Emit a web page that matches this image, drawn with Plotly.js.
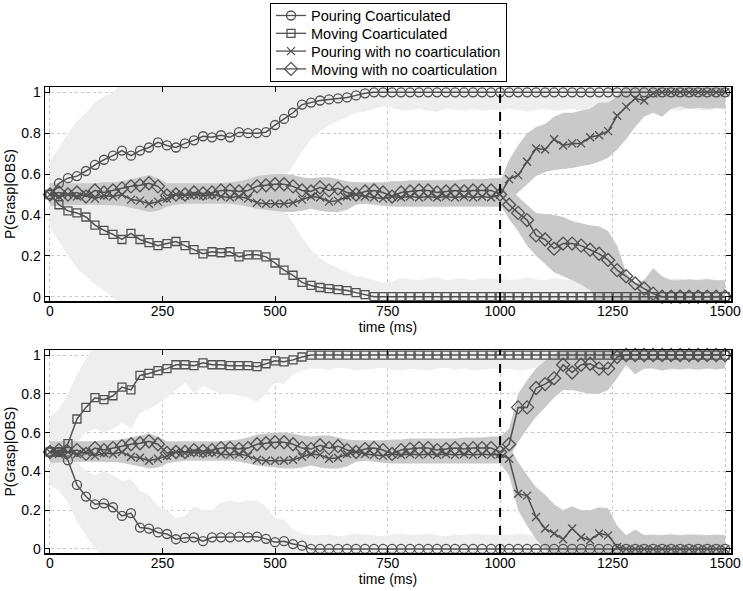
<!DOCTYPE html>
<html>
<head>
<meta charset="utf-8">
<script src="https://cdn.plot.ly/plotly-3.0.1.min.js"></script>
<style>html,body{margin:0;padding:0;background:#fff;}#chart{width:743px;height:591px;}</style>
</head>
<body>
<div id="chart"></div>
<script>
// time axis (ms)
const time = [0,20,40,60,80,100,120,140,160,180,
  200,220,240,260,280,300,320,340,360,380,
  400,420,440,460,480,500,520,540,560,580,
  600,620,640,660,680,700,720,740,760,780,
  800,820,840,860,880,900,920,940,960,980,
  1000,1020,1040,1060,1080,1100,1120,1140,1160,1180,
  1200,1220,1240,1260,1280,1300,1320,1340,1360,1380,
  1400,1420,1440,1460,1480,1500];

const seriesNames = ["Pouring Coarticulated","Moving Coarticulated","Pouring with no coarticulation","Moving with no coarticulation"];
const xTickVals = [0,250,500,750,1000,1250,1500];
const yTickVals = [0,0.2,0.4,0.6,0.8,1];
const yTickText = ["0","0.2","0.4","0.6","0.8","1"];
const onsetTime = 1000;

// ---------- TOP PANEL ----------
const topPourCo = [0.50,0.555,0.58,0.59,0.615,0.645,0.67,0.69,0.715,0.69,
  0.715,0.73,0.755,0.74,0.73,0.75,0.765,0.785,0.78,0.79,
  0.78,0.805,0.80,0.80,0.805,0.84,0.87,0.90,0.94,0.95,
  0.96,0.965,0.97,0.975,0.985,0.995,1,1,1,1,
  1,1,1,1,1,1,1,1,1,1,
  1,1,1,1,1,1,1,1,1,1,
  1,1,1,1,1,1,1,1,1,1,
  1,1,1,1,1,1];
const topMoveCo = [0.50,0.45,0.42,0.41,0.39,0.35,0.325,0.305,0.28,0.31,
  0.28,0.265,0.25,0.26,0.27,0.25,0.23,0.21,0.22,0.215,
  0.22,0.195,0.205,0.205,0.195,0.165,0.13,0.105,0.07,0.055,
  0.045,0.04,0.035,0.03,0.02,0.01,0,0,0,0,
  0,0,0,0,0,0,0,0,0,0,
  0,0,0,0,0,0,0,0,0,0,
  0,0,0,0,0,0,0,0,0,0,
  0,0,0,0,0,0];
const topPourNo = [0.50,0.49,0.50,0.49,0.50,0.48,0.495,0.49,0.50,0.475,
  0.47,0.455,0.465,0.48,0.50,0.495,0.50,0.495,0.50,0.49,
  0.485,0.49,0.48,0.46,0.455,0.455,0.455,0.46,0.475,0.49,
  0.485,0.465,0.47,0.49,0.50,0.49,0.485,0.48,0.49,0.485,
  0.49,0.485,0.49,0.485,0.49,0.485,0.49,0.485,0.49,0.485,
  0.50,0.575,0.595,0.66,0.725,0.72,0.77,0.74,0.75,0.75,
  0.78,0.79,0.81,0.885,0.93,0.97,0.96,0.995,1,1,
  1,1,1,1,1,1];
const topMoveNo = [0.50,0.51,0.50,0.51,0.49,0.52,0.51,0.52,0.53,0.54,
  0.545,0.555,0.54,0.495,0.50,0.50,0.51,0.505,0.51,0.52,
  0.52,0.515,0.52,0.54,0.545,0.55,0.55,0.54,0.52,0.515,
  0.535,0.52,0.53,0.51,0.50,0.515,0.52,0.51,0.49,0.51,
  0.515,0.52,0.52,0.51,0.515,0.52,0.515,0.52,0.52,0.52,
  0.50,0.45,0.41,0.375,0.30,0.28,0.235,0.26,0.26,0.25,
  0.23,0.21,0.18,0.13,0.10,0.065,0.04,0.015,0,0,
  0,0,0,0,0,0];

// top panel spread bands (upper / lower edges)
const topPourCoHi = [0.66,0.73,0.80,0.86,0.90,0.95,0.98,1.0,1.05,1.05,
  1.05,1.05,1.05,1.05,1.05,1.05,1.05,1.05,1.05,1.05,
  1.05,1.05,1.05,1.05,1.05,1.05,1.05,1.05,1.05,1.05,
  1.05,1.05,1.05,1.05,1.05,1.05,1.05,1.05,1.05,1.05,
  1.05,1.05,1.05,1.05,1.05,1.05,1.05,1.05,1.05,1.05,
  1.05,1.05,1.05,1.05,1.05,1.05,1.05,1.05,1.05,1.05,
  1.05,1.05,1.05,1.05,1.05,1.05,1.05,1.05,1.05,1.05,
  1.05,1.05,1.05,1.05,1.05,1.05];
const topPourCoLo = [0.34,0.30,0.27,0.25,0.24,0.25,0.27,0.28,0.30,0.30,
  0.32,0.33,0.35,0.35,0.35,0.36,0.37,0.38,0.38,0.39,
  0.40,0.41,0.42,0.43,0.45,0.50,0.58,0.64,0.71,0.77,
  0.81,0.84,0.86,0.88,0.90,0.905,0.92,0.93,0.925,0.91,
  0.915,0.92,0.91,0.905,0.92,0.915,0.91,0.92,0.91,0.915,
  0.91,0.92,0.915,0.905,0.915,0.92,0.91,0.915,0.92,0.91,
  0.915,0.91,0.92,0.915,0.91,0.92,0.915,0.91,0.92,0.915,
  0.91,0.92,0.915,0.91,0.92,0.915];
const topMoveCoHi = [0.66,0.70,0.73,0.75,0.76,0.75,0.73,0.72,0.70,0.70,
  0.68,0.67,0.65,0.65,0.65,0.64,0.63,0.62,0.62,0.61,
  0.60,0.59,0.58,0.57,0.55,0.50,0.42,0.36,0.29,0.23,
  0.19,0.16,0.14,0.12,0.10,0.095,0.08,0.07,0.075,0.09,
  0.085,0.08,0.09,0.095,0.08,0.085,0.09,0.08,0.09,0.085,
  0.09,0.08,0.085,0.095,0.085,0.08,0.09,0.085,0.08,0.09,
  0.085,0.09,0.08,0.085,0.09,0.08,0.085,0.09,0.08,0.085,
  0.09,0.08,0.085,0.09,0.08,0.085];
const topMoveCoLo = [0.34,0.27,0.20,0.14,0.10,0.06,0.03,0.0,-0.05,-0.05,
  -0.05,-0.05,-0.05,-0.05,-0.05,-0.05,-0.05,-0.05,-0.05,-0.05,
  -0.05,-0.05,-0.05,-0.05,-0.05,-0.05,-0.05,-0.05,-0.05,-0.05,
  -0.05,-0.05,-0.05,-0.05,-0.05,-0.05,-0.05,-0.05,-0.05,-0.05,
  -0.05,-0.05,-0.05,-0.05,-0.05,-0.05,-0.05,-0.05,-0.05,-0.05,
  -0.05,-0.05,-0.05,-0.05,-0.05,-0.05,-0.05,-0.05,-0.05,-0.05,
  -0.05,-0.05,-0.05,-0.05,-0.05,-0.05,-0.05,-0.05,-0.05,-0.05,
  -0.05,-0.05,-0.05,-0.05,-0.05,-0.05];
const topPourNoHi = [0.54,0.53,0.54,0.53,0.54,0.525,0.535,0.53,0.54,0.52,
  0.515,0.505,0.51,0.525,0.54,0.535,0.54,0.535,0.54,0.53,
  0.525,0.53,0.52,0.505,0.50,0.50,0.50,0.505,0.515,0.53,
  0.525,0.51,0.515,0.53,0.54,0.53,0.525,0.52,0.53,0.525,
  0.53,0.525,0.53,0.525,0.53,0.525,0.53,0.525,0.53,0.525,
  0.56,0.67,0.74,0.80,0.83,0.845,0.88,0.90,0.90,0.91,
  0.92,0.95,0.95,0.98,1.05,1.05,1.05,1.05,1.05,1.05,
  1.05,1.05,1.05,1.05,1.05,1.05];
const topPourNoLo = [0.445,0.445,0.448,0.45,0.45,0.45,0.45,0.448,0.445,0.435,
  0.425,0.415,0.42,0.44,0.45,0.455,0.455,0.455,0.455,0.455,
  0.455,0.45,0.44,0.43,0.425,0.42,0.415,0.415,0.42,0.43,
  0.42,0.415,0.415,0.425,0.45,0.455,0.45,0.445,0.44,0.44,
  0.44,0.44,0.44,0.44,0.44,0.44,0.44,0.44,0.44,0.44,
  0.44,0.47,0.51,0.55,0.59,0.61,0.62,0.625,0.63,0.64,
  0.645,0.66,0.68,0.72,0.77,0.83,0.88,0.90,0.88,0.92,
  0.93,0.92,0.925,0.92,0.925,0.92];
const topMoveNoHi = [0.555,0.555,0.555,0.555,0.555,0.555,0.56,0.56,0.565,0.575,
  0.585,0.595,0.58,0.555,0.555,0.555,0.555,0.555,0.555,0.555,
  0.56,0.565,0.575,0.59,0.595,0.60,0.60,0.595,0.585,0.58,
  0.585,0.585,0.575,0.565,0.56,0.56,0.56,0.56,0.565,0.565,
  0.57,0.57,0.57,0.57,0.57,0.57,0.575,0.575,0.575,0.58,
  0.58,0.53,0.49,0.45,0.41,0.405,0.40,0.39,0.37,0.36,
  0.35,0.345,0.32,0.25,0.12,0.065,0.08,0.14,0.10,0.08,
  0.08,0.085,0.08,0.085,0.08,0.08];
const topMoveNoLo = [0.46,0.465,0.46,0.465,0.455,0.47,0.465,0.47,0.475,0.48,
  0.48,0.485,0.48,0.455,0.46,0.46,0.465,0.46,0.465,0.47,
  0.47,0.465,0.47,0.48,0.485,0.49,0.49,0.48,0.47,0.465,
  0.48,0.47,0.475,0.465,0.46,0.465,0.47,0.465,0.455,0.465,
  0.465,0.47,0.47,0.465,0.465,0.47,0.465,0.47,0.47,0.47,
  0.45,0.38,0.32,0.25,0.20,0.16,0.12,0.10,0.08,0.06,
  0.03,-0.05,-0.05,-0.05,-0.05,-0.05,-0.05,-0.05,-0.05,-0.05,
  -0.05,-0.05,-0.05,-0.05,-0.05,-0.05];

// ---------- BOTTOM PANEL ----------
const botPourCo = [0.50,0.50,0.457,0.33,0.27,0.23,0.235,0.215,0.17,0.185,
  0.11,0.105,0.085,0.077,0.05,0.057,0.06,0.04,0.06,0.06,
  0.06,0.063,0.06,0.063,0.052,0.035,0.04,0.025,0.017,0,
  0,0,0,0,0,0,0,0,0,0,
  0,0,0,0,0,0,0,0,0,0,
  0,0,0,0,0,0,0,0,0,0,
  0,0,0,0,0,0,0,0,0,0,
  0,0,0,0,0,0];
const botMoveCo = [0.50,0.50,0.543,0.67,0.73,0.78,0.77,0.79,0.835,0.82,
  0.895,0.905,0.92,0.93,0.95,0.95,0.945,0.96,0.95,0.95,
  0.945,0.945,0.945,0.94,0.955,0.97,0.965,0.975,0.99,1,
  1,1,1,1,1,1,1,1,1,1,
  1,1,1,1,1,1,1,1,1,1,
  1,1,1,1,1,1,1,1,1,1,
  1,1,1,1,1,1,1,1,1,1,
  1,1,1,1,1,1];
const botPourNo = [0.50,0.49,0.50,0.49,0.50,0.48,0.495,0.49,0.50,0.475,
  0.47,0.455,0.465,0.48,0.50,0.495,0.50,0.495,0.50,0.49,
  0.485,0.49,0.48,0.46,0.455,0.455,0.455,0.46,0.475,0.49,
  0.485,0.465,0.47,0.49,0.50,0.49,0.485,0.48,0.49,0.485,
  0.49,0.485,0.49,0.485,0.49,0.485,0.49,0.485,0.49,0.485,
  0.49,0.465,0.285,0.275,0.165,0.105,0.08,0.05,0.105,0.06,
  0.045,0.08,0.07,0.01,0,0,0,0,0,0,
  0,0,0,0,0,0];
const botMoveNo = [0.50,0.51,0.50,0.51,0.49,0.52,0.51,0.52,0.53,0.54,
  0.545,0.555,0.54,0.495,0.50,0.50,0.51,0.505,0.51,0.52,
  0.52,0.515,0.52,0.54,0.545,0.55,0.55,0.54,0.52,0.515,
  0.535,0.52,0.53,0.51,0.50,0.515,0.52,0.51,0.49,0.51,
  0.515,0.52,0.52,0.51,0.515,0.52,0.515,0.52,0.52,0.52,
  0.50,0.54,0.73,0.73,0.83,0.85,0.88,0.95,0.91,0.95,
  0.955,0.93,0.93,0.99,1,1,1,1,1,1,
  1,1,1,1,1,1];

const botMoveCoHi = [0.68,0.72,0.80,0.90,0.98,1.05,1.05,1.05,1.05,1.05,
  1.05,1.05,1.05,1.05,1.05,1.05,1.05,1.05,1.05,1.05,
  1.05,1.05,1.05,1.05,1.05,1.05,1.05,1.05,1.05,1.05,
  1.05,1.05,1.05,1.05,1.05,1.05,1.05,1.05,1.05,1.05,
  1.05,1.05,1.05,1.05,1.05,1.05,1.05,1.05,1.05,1.05,
  1.05,1.05,1.05,1.05,1.05,1.05,1.05,1.05,1.05,1.05,
  1.05,1.05,1.05,1.05,1.05,1.05,1.05,1.05,1.05,1.05,
  1.05,1.05,1.05,1.05,1.05,1.05];
const botMoveCoLo = [0.33,0.35,0.45,0.55,0.60,0.62,0.60,0.62,0.65,0.62,
  0.70,0.72,0.75,0.78,0.82,0.86,0.80,0.84,0.82,0.80,
  0.80,0.79,0.78,0.76,0.80,0.86,0.85,0.90,0.92,0.93,
  0.93,0.925,0.935,0.93,0.92,0.925,0.93,0.935,0.925,0.92,
  0.93,0.925,0.92,0.93,0.935,0.925,0.93,0.92,0.925,0.93,
  0.925,0.93,0.92,0.925,0.935,0.93,0.92,0.925,0.93,0.925,
  0.92,0.93,0.925,0.935,0.93,0.92,0.925,0.93,0.925,0.92,
  0.93,0.925,0.92,0.93,0.925,0.93];
const botPourCoHi = [0.67,0.65,0.55,0.45,0.40,0.38,0.40,0.38,0.35,0.36,
  0.30,0.28,0.22,0.20,0.16,0.17,0.22,0.20,0.20,0.24,
  0.25,0.24,0.25,0.25,0.22,0.16,0.15,0.10,0.08,0.07,
  0.07,0.075,0.065,0.07,0.08,0.075,0.07,0.065,0.075,0.08,
  0.07,0.075,0.08,0.07,0.065,0.075,0.07,0.08,0.075,0.07,
  0.075,0.07,0.08,0.075,0.065,0.07,0.08,0.075,0.07,0.075,
  0.08,0.07,0.075,0.065,0.07,0.08,0.075,0.07,0.075,0.08,
  0.07,0.075,0.08,0.07,0.075,0.07];
const botPourCoLo = [0.33,0.30,0.24,0.14,0.07,0.0,-0.05,-0.05,-0.05,-0.05,
  -0.05,-0.05,-0.05,-0.05,-0.05,-0.05,-0.05,-0.05,-0.05,-0.05,
  -0.05,-0.05,-0.05,-0.05,-0.05,-0.05,-0.05,-0.05,-0.05,-0.05,
  -0.05,-0.05,-0.05,-0.05,-0.05,-0.05,-0.05,-0.05,-0.05,-0.05,
  -0.05,-0.05,-0.05,-0.05,-0.05,-0.05,-0.05,-0.05,-0.05,-0.05,
  -0.05,-0.05,-0.05,-0.05,-0.05,-0.05,-0.05,-0.05,-0.05,-0.05,
  -0.05,-0.05,-0.05,-0.05,-0.05,-0.05,-0.05,-0.05,-0.05,-0.05,
  -0.05,-0.05,-0.05,-0.05,-0.05,-0.05];
const botPourNoHi = [0.54,0.53,0.54,0.53,0.54,0.525,0.535,0.53,0.54,0.52,
  0.515,0.505,0.51,0.525,0.54,0.535,0.54,0.535,0.54,0.53,
  0.525,0.53,0.52,0.505,0.50,0.50,0.50,0.505,0.515,0.53,
  0.525,0.51,0.515,0.53,0.54,0.53,0.525,0.52,0.53,0.525,
  0.53,0.525,0.53,0.525,0.53,0.525,0.53,0.525,0.53,0.525,
  0.56,0.53,0.45,0.38,0.32,0.28,0.23,0.20,0.22,0.20,
  0.20,0.215,0.21,0.12,0.07,0.10,0.07,0.075,0.07,0.075,
  0.07,0.075,0.07,0.07,0.075,0.07];
const botPourNoLo = [0.445,0.445,0.448,0.45,0.45,0.45,0.45,0.448,0.445,0.435,
  0.425,0.415,0.42,0.44,0.45,0.455,0.455,0.455,0.455,0.455,
  0.455,0.45,0.44,0.43,0.425,0.42,0.415,0.415,0.42,0.43,
  0.42,0.415,0.415,0.425,0.45,0.455,0.45,0.445,0.44,0.44,
  0.44,0.44,0.44,0.44,0.44,0.44,0.44,0.44,0.44,0.44,
  0.44,0.38,0.20,0.12,0.05,0.0,-0.05,-0.05,-0.05,-0.05,
  -0.05,-0.05,-0.05,-0.05,-0.05,-0.05,-0.05,-0.05,-0.05,-0.05,
  -0.05,-0.05,-0.05,-0.05,-0.05,-0.05];
const botMoveNoHi = [0.555,0.555,0.555,0.555,0.555,0.555,0.56,0.56,0.565,0.575,
  0.585,0.595,0.58,0.555,0.555,0.555,0.555,0.555,0.555,0.555,
  0.56,0.565,0.575,0.59,0.595,0.60,0.60,0.595,0.585,0.58,
  0.585,0.585,0.575,0.565,0.56,0.56,0.56,0.56,0.565,0.565,
  0.57,0.57,0.57,0.57,0.57,0.57,0.575,0.575,0.575,0.58,
  0.58,0.62,0.80,0.87,0.93,0.97,1.0,1.05,1.05,1.05,
  1.05,1.05,1.05,1.05,1.05,1.05,1.05,1.05,1.05,1.05,
  1.05,1.05,1.05,1.05,1.05,1.05];
const botMoveNoLo = [0.46,0.465,0.46,0.465,0.455,0.47,0.465,0.47,0.475,0.48,
  0.48,0.485,0.48,0.455,0.46,0.46,0.465,0.46,0.465,0.47,
  0.47,0.465,0.47,0.48,0.485,0.49,0.49,0.48,0.47,0.465,
  0.48,0.47,0.475,0.465,0.46,0.465,0.47,0.465,0.455,0.465,
  0.465,0.47,0.47,0.465,0.465,0.47,0.465,0.47,0.47,0.47,
  0.45,0.47,0.55,0.62,0.68,0.73,0.78,0.82,0.82,0.81,
  0.80,0.80,0.82,0.88,0.95,0.90,0.93,0.93,0.92,0.93,
  0.925,0.93,0.925,0.93,0.925,0.93];

// ---------- styling ----------
const LIGHT = "#eeeeee";
const DARK = "#c9c9c9";
const LINE = "#505050";
const FONT = "Liberation Sans, Arial, Helvetica, sans-serif";
const symbols = ["circle-open","square-open","x-thin-open","diamond-open"];
const msizes = [9,8,8,10];

function band(hi, lo, color, xa, ya) {
  return {
    x: time.concat(time.slice().reverse()),
    y: hi.concat(lo.slice().reverse()),
    xaxis: xa, yaxis: ya,
    type: "scatter", mode: "lines", fill: "toself",
    fillcolor: color, line: {width: 0, color: color},
    hoverinfo: "skip", showlegend: false
  };
}
function series(y, k, xa, ya, showLegend) {
  return {
    x: time, y: y, xaxis: xa, yaxis: ya,
    type: "scatter", mode: "lines+markers", name: seriesNames[k],
    line: {color: LINE, width: 1.5},
    marker: {symbol: symbols[k], size: msizes[k], color: LINE, line: {color: LINE, width: 1.3}},
    showlegend: showLegend, cliponaxis: false
  };
}

const data = [
  band(topPourCoHi, topPourCoLo, LIGHT, "x", "y"),
  band(topMoveCoHi, topMoveCoLo, LIGHT, "x", "y"),
  band(botPourCoHi, botPourCoLo, LIGHT, "x2", "y2"),
  band(botMoveCoHi, botMoveCoLo, LIGHT, "x2", "y2"),
  band(topPourNoHi, topPourNoLo, DARK, "x", "y"),
  band(topMoveNoHi, topMoveNoLo, DARK, "x", "y"),
  band(botPourNoHi, botPourNoLo, DARK, "x2", "y2"),
  band(botMoveNoHi, botMoveNoLo, DARK, "x2", "y2"),
  series(topPourCo, 0, "x", "y", true),
  series(topMoveCo, 1, "x", "y", true),
  series(topPourNo, 2, "x", "y", true),
  series(topMoveNo, 3, "x", "y", true),
  series(botPourCo, 0, "x2", "y2", false),
  series(botMoveCo, 1, "x2", "y2", false),
  series(botPourNo, 2, "x2", "y2", false),
  series(botMoveNo, 3, "x2", "y2", false)
];

function xAxis(anchor) {
  return {
    domain: [45/743, 731/743], anchor: anchor, range: [-11, 1513],
    tickvals: xTickVals, ticks: "inside", ticklen: 5, tickcolor: "#000",
    showline: true, linecolor: "#000", linewidth: 1.5, mirror: "ticks",
    showgrid: true, gridcolor: "#c8c8c8", griddash: "dot", gridwidth: 1,
    zeroline: false, tickfont: {family: FONT, size: 14, color: "#000"},
    ticklabelstandoff: -3,
    title: {text: "time (ms)", font: {family: FONT, size: 14, color: "#000"}, standoff: 0},
    automargin: false
  };
}
function yAxis(anchor, dom) {
  return {
    domain: dom, anchor: anchor, range: [-0.021, 1.026],
    tickvals: yTickVals, ticktext: yTickText, ticks: "inside", ticklen: 5, tickcolor: "#000",
    showline: true, linecolor: "#000", linewidth: 1.5, mirror: "ticks",
    showgrid: true, gridcolor: "#c8c8c8", griddash: "dot", gridwidth: 1,
    zeroline: false, tickfont: {family: FONT, size: 14, color: "#000"},
    title: {text: "P(Grasp|OBS)", font: {family: FONT, size: 14, color: "#000"}, standoff: 2},
    automargin: false
  };
}

const layout = {
  width: 743, height: 591,
  margin: {l: 0, r: 0, t: 0, b: 0},
  paper_bgcolor: "#fff", plot_bgcolor: "#fff",
  font: {family: FONT, size: 14, color: "#000"},
  xaxis: xAxis("y"),
  yaxis: yAxis("x", [1 - 301/591, 1 - 87/591]),
  xaxis2: xAxis("y2"),
  yaxis2: yAxis("x2", [1 - 553/591, 1 - 350/591]),
  showlegend: true,
  legend: {
    x: 270/743, y: 1 - 3/591, xanchor: "left", yanchor: "top",
    bgcolor: "#fff", bordercolor: "#000", borderwidth: 1,
    font: {family: FONT, size: 14.5, color: "#000"},
    tracegroupgap: 0
  },
  shapes: [
    {type: "line", xref: "x", yref: "y domain", x0: onsetTime, x1: onsetTime, y0: 0, y1: 1,
     line: {color: "#000", width: 2, dash: "dash"}, layer: "above"},
    {type: "line", xref: "x2", yref: "y2 domain", x0: onsetTime, x1: onsetTime, y0: 0, y1: 1,
     line: {color: "#000", width: 2, dash: "dash"}, layer: "above"}
  ]
};

Plotly.newPlot("chart", data, layout, {staticPlot: true, displayModeBar: false}).then(function (gd) {
  // tighten legend row spacing to match the compact reference legend box
  const leg = gd.querySelector("g.legend");
  if (!leg) return;
  const items = leg.querySelectorAll("g.traces");
  const rowGap = 17.8, firstY = 12.5;
  items.forEach(function (it, i) {
    const m = /translate\(\s*([-\d.eE]+)[ ,]+([-\d.eE]+)\s*\)/.exec(it.getAttribute("transform") || "");
    const tx = m ? parseFloat(m[1]) : 0;
    it.setAttribute("transform", "translate(" + tx + "," + (firstY + i * rowGap) + ")");
  });
  leg.querySelectorAll("path.js-line").forEach(function (p) {
    p.style.strokeWidth = "1.3px";
  });
  const newH = firstY + (items.length - 1) * rowGap + 12.5;
  const bg = leg.querySelector("rect.bg");
  if (bg) bg.setAttribute("height", newH);
});
</script>
</body>
</html>
